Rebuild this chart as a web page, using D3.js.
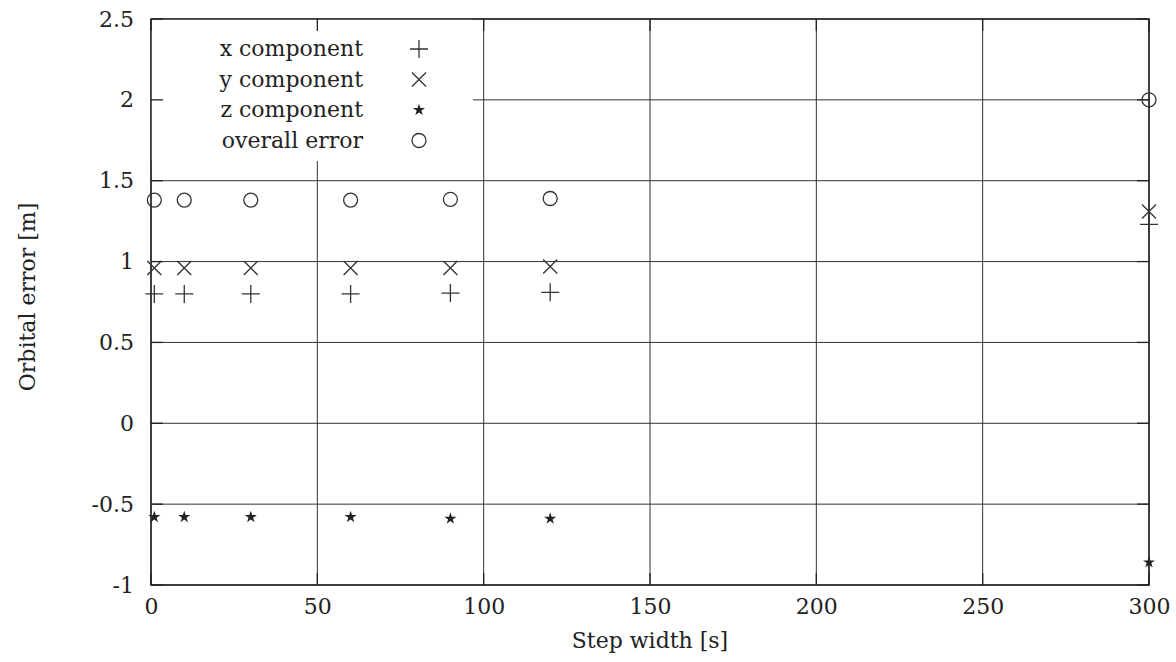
<!DOCTYPE html>
<html>
<head>
<meta charset="utf-8">
<script src="https://cdn.jsdelivr.net/npm/d3@7"></script>
<style>
  body { margin: 0; background: #fff; }
  text { font-family: "DejaVu Serif", "Liberation Serif", serif; fill: #222; }
</style>
</head>
<body>
<div class="visHolder"></div>
<script>
// step widths [s] and the error components [m]
var steps = [1, 10, 30, 60, 90, 120, 300];
var xErr = [0.80, 0.80, 0.80, 0.80, 0.805, 0.81, 1.23];
var yErr = [0.96, 0.96, 0.96, 0.96, 0.96, 0.97, 1.31];
var zErr = [-0.58, -0.58, -0.58, -0.58, -0.59, -0.59, -0.86];
var overall = [1.38, 1.38, 1.38, 1.38, 1.385, 1.39, 2.0];

var xTicks = [0, 50, 100, 150, 200, 250, 300];
var yTicks = [-1, -0.5, 0, 0.5, 1, 1.5, 2, 2.5];
var seriesNames = ["x component", "y component", "z component", "overall error"];
var seriesKinds = ["plus", "cross", "star", "circle"];

var margin = { top: 19, right: 27, bottom: 77, left: 151 },
    width = 1176 - margin.left - margin.right,
    height = 662 - margin.top - margin.bottom;

var fontSize = "22px";

var svg = d3.select(".visHolder")
    .append("svg")
    .attr("width", 1176)
    .attr("height", 662)
    .append("g")
    .attr("transform", "translate(" + margin.left + "," + margin.top + ")");

var x = d3.scaleLinear().domain([0, 300]).range([0, width]);
var y = d3.scaleLinear().domain([-1, 2.5]).range([height, 0]);

// grid
svg.append("g")
    .selectAll("line.gx")
    .data(xTicks)
    .enter().append("line")
    .attr("x1", (d) => x(d)).attr("x2", (d) => x(d))
    .attr("y1", 0).attr("y2", height)
    .style("stroke", "#333").style("stroke-width", 1);

svg.append("g")
    .selectAll("line.gy")
    .data(yTicks)
    .enter().append("line")
    .attr("x1", 0).attr("x2", width)
    .attr("y1", (d) => y(d)).attr("y2", (d) => y(d))
    .style("stroke", "#333").style("stroke-width", 1);

// opaque key box
svg.append("rect")
    .attr("x", 0).attr("y", 0)
    .attr("width", 322).attr("height", 142)
    .style("fill", "#fff");

// tick marks on all four sides
var tl = 12;
var ticks = svg.append("g").style("stroke", "#222").style("stroke-width", 1.3);
xTicks.forEach(function(d) {
    ticks.append("line").attr("x1", x(d)).attr("x2", x(d)).attr("y1", height).attr("y2", height - tl);
    ticks.append("line").attr("x1", x(d)).attr("x2", x(d)).attr("y1", 0).attr("y2", tl);
});
yTicks.forEach(function(d) {
    ticks.append("line").attr("x1", 0).attr("x2", tl).attr("y1", y(d)).attr("y2", y(d));
    ticks.append("line").attr("x1", width).attr("x2", width - tl).attr("y1", y(d)).attr("y2", y(d));
});

// border
svg.append("rect")
    .attr("width", width).attr("height", height)
    .style("fill", "none").style("stroke", "#222").style("stroke-width", 1.5);

// axes (labels only)
var xAxis = svg.append("g")
    .attr("transform", "translate(0," + height + ")")
    .call(d3.axisBottom(x).tickValues(xTicks).tickSize(0).tickPadding(13));
var yAxis = svg.append("g")
    .call(d3.axisLeft(y).tickValues(yTicks).tickSize(0).tickPadding(17)
        .tickFormat((d) => String(d)));
[xAxis, yAxis].forEach(function(a) {
    a.select(".domain").remove();
    a.selectAll("text")
        .style("font-family", '"DejaVu Serif", serif')
        .style("font-size", fontSize)
        .style("fill", "#222");
});

svg.append("text")
    .attr("x", width / 2).attr("y", height + 63)
    .attr("text-anchor", "middle")
    .style("font-size", fontSize)
    .text("Step width [s]");

svg.append("text")
    .attr("transform", "translate(" + (-116) + "," + (height / 2 - 5) + ") rotate(-90)")
    .attr("text-anchor", "middle")
    .style("font-size", fontSize)
    .text("Orbital error [m]");

// marker drawing
function marker(g, kind, cx, cy) {
    var s = g.append("g").attr("transform", "translate(" + cx + "," + cy + ")");
    if (kind === "plus") {
        s.append("path").attr("d", "M-9,0H9M0,-9V9");
    } else if (kind === "cross") {
        s.append("path").attr("d", "M-7,-7L7,7M-7,7L7,-7");
    } else if (kind === "circle") {
        s.append("circle").attr("r", 7);
    } else {
        s.append("path")
            .attr("d", d3.symbol().type(d3.symbolStar).size(45)())
            .style("fill", "#222").style("stroke", "none");
    }
    s.selectAll("path, circle")
        .filter(function() { return kind !== "star"; })
        .style("fill", "none").style("stroke", "#333").style("stroke-width", 1.3);
}

var allSeries = [xErr, yErr, zErr, overall];
var pts = svg.append("g");
allSeries.forEach(function(vals, i) {
    vals.forEach(function(v, j) {
        marker(pts, seriesKinds[i], x(steps[j]), y(v));
    });
});

// key
var key = svg.append("g");
seriesNames.forEach(function(name, i) {
    var ry = 30 + i * 30.5;
    key.append("text")
        .attr("x", 212).attr("y", ry)
        .attr("dy", "0.33em")
        .attr("text-anchor", "end")
        .style("font-size", fontSize)
        .text(name);
    marker(key, seriesKinds[i], 268, ry);
});
</script>
</body>
</html>
